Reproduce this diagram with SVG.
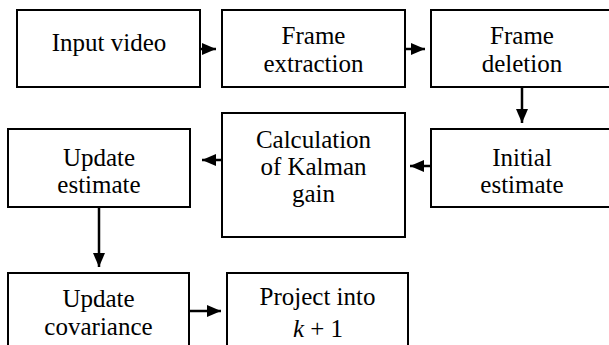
<svg xmlns="http://www.w3.org/2000/svg" width="609" height="345" viewBox="0 0 609 345">
<style>
.box{fill:#fff;stroke:#000;stroke-width:2}
.c{stroke:#000;stroke-width:2.5;fill:none}
</style>
<defs>
<marker id="ah" viewBox="0 0 14 12" refX="14" refY="6" markerWidth="14" markerHeight="12" markerUnits="userSpaceOnUse" orient="auto">
<path d="M0,0 L14,6 L0,12 z" fill="#000"/>
</marker>
</defs>
<rect width="609" height="345" fill="#fff"/>
<g font-family="Times New Roman, Liberation Serif, Tinos, serif" font-size="25" text-anchor="middle">
<g id="n1"><rect class="box" x="17" y="10" width="183" height="77"/><text x="109" y="51">Input video</text></g>
<g id="n2"><rect class="box" x="222" y="10" width="183" height="77"/><text x="313.5" y="44">Frame</text><text x="313.5" y="72">extraction</text></g>
<g id="n3"><rect class="box" x="431" y="10" width="182" height="77"/><text x="522" y="44">Frame</text><text x="522" y="72">deletion</text></g>
<g id="n4"><rect class="box" x="431" y="129" width="182" height="78"/><text x="522" y="166">Initial</text><text x="522" y="193">estimate</text></g>
<g id="n5"><rect class="box" x="222" y="113" width="183" height="124"/><text x="313.5" y="148">Calculation</text><text x="313.5" y="175">of Kalman</text><text x="313.5" y="202">gain</text></g>
<g id="n6"><rect class="box" x="8" y="129" width="182" height="78"/><text x="99" y="166">Update</text><text x="99" y="193">estimate</text></g>
<g id="n7"><rect class="box" x="8" y="273" width="181" height="80"/><text x="98.5" y="307">Update</text><text x="98.5" y="335">covariance</text></g>
<g id="n8"><rect class="box" x="227" y="273" width="181" height="80"/><text x="317.5" y="305">Project into</text><text x="318" y="337"><tspan font-style="italic">k</tspan> + 1</text></g>
</g>
<g id="connectors">
<path class="c" d="M200,49 L216,49" marker-end="url(#ah)"/>
<path class="c" d="M405,49 L425,49" marker-end="url(#ah)"/>
<path class="c" d="M522,87 L522,123" marker-end="url(#ah)"/>
<path class="c" d="M431,166 L410,166" marker-end="url(#ah)"/>
<path class="c" d="M222,160 L202,160" marker-end="url(#ah)"/>
<path class="c" d="M99,207 L99,267" marker-end="url(#ah)"/>
<path class="c" d="M189,311 L221,311" marker-end="url(#ah)"/>
</g>
</svg>
